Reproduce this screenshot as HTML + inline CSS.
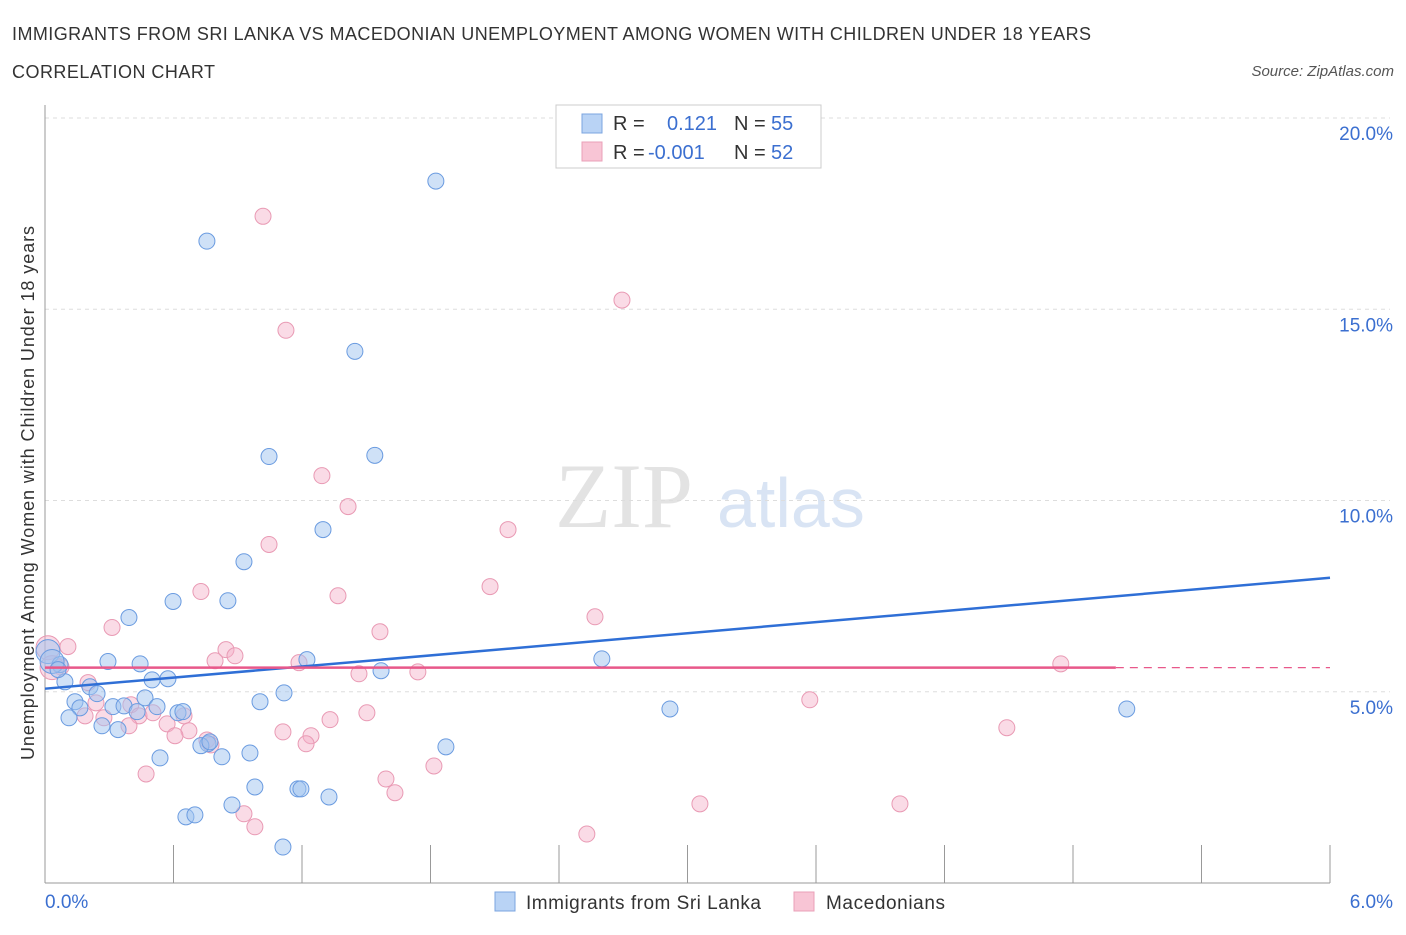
<!DOCTYPE html>
<html><head><meta charset="utf-8"><style>
body{margin:0;background:#fff;font-family:"Liberation Sans",sans-serif;}
svg text{font-family:"Liberation Sans",sans-serif;}
</style></head><body>
<svg id="chart" width="1406" height="930" xmlns="http://www.w3.org/2000/svg">
<text x="12" y="40" font-size="18" fill="#333" textLength="1079">IMMIGRANTS FROM SRI LANKA VS MACEDONIAN UNEMPLOYMENT AMONG WOMEN WITH CHILDREN UNDER 18 YEARS</text>
<text x="12" y="78" font-size="18" fill="#333" textLength="203">CORRELATION CHART</text>
<text x="1394" y="76" font-size="15" fill="#555" text-anchor="end" font-style="italic">Source: ZipAtlas.com</text>
<text x="555" y="527" font-size="92" fill="#ddd" style="font-family:'Liberation Serif',serif" opacity="0.8">ZIP</text>
<text x="717" y="527" font-size="70" fill="#c9daf0" opacity="0.7">atlas</text>
<g id="grid"></g>
<g id="axes"></g>
<g id="marks"></g>
<text transform="translate(34,493) rotate(-90)" font-size="18" fill="#333" text-anchor="middle" textLength="534">Unemployment Among Women with Children Under 18 years</text>
<g>
<rect x="556" y="105" width="265" height="63" fill="#fff" stroke="#ccc"/>
<rect x="582" y="114" width="20" height="19" fill="#b9d3f5" stroke="#7ba5e0"/>
<rect x="582" y="142" width="20" height="19" fill="#f8c5d5" stroke="#eaa0b8"/>
<text x="613" y="130" font-size="20" fill="#333">R =</text>
<text x="667" y="130" font-size="20" fill="#3b6fd0">0.121</text>
<text x="734" y="130" font-size="20" fill="#333">N =</text>
<text x="771" y="130" font-size="20" fill="#3b6fd0">55</text>
<text x="613" y="159" font-size="20" fill="#333">R =</text>
<text x="648" y="159" font-size="20" fill="#3b6fd0">-0.001</text>
<text x="734" y="159" font-size="20" fill="#333">N =</text>
<text x="771" y="159" font-size="20" fill="#3b6fd0">52</text>
</g>
<g>
<rect x="495" y="892" width="20" height="19" fill="#b9d3f5" stroke="#7ba5e0"/>
<text x="526" y="909" font-size="19" fill="#333" textLength="235">Immigrants from Sri Lanka</text>
<rect x="794" y="892" width="20" height="19" fill="#f8c5d5" stroke="#eaa0b8"/>
<text x="826" y="909" font-size="19" fill="#333" textLength="119">Macedonians</text>
</g>
</svg>
<script>
const blueX=[1.825,0.756,1.447,1.046,1.54,1.298,0.929,0.598,0.854,0.392,0.294,0.444,0.014,0.07,0.093,0.21,0.243,0.5,0.574,0.14,0.163,0.112,0.266,0.341,0.317,0.369,0.43,0.467,0.523,0.621,0.644,0.761,0.728,0.537,0.826,0.957,1.004,1.116,1.223,1.569,2.6,2.918,5.051,1.872,0.98,1.181,1.195,1.326,0.873,0.658,0.70,1.111,0.033,0.061,0.77];
const blueY=[18.35,16.78,13.9,11.15,11.18,9.24,8.40,7.36,7.38,6.94,5.79,5.73,6.05,5.71,5.26,5.13,4.95,5.31,5.34,4.74,4.58,4.32,4.11,4.01,4.61,4.63,4.48,4.84,4.61,4.45,4.48,3.64,3.59,3.27,3.30,3.40,4.74,4.97,5.84,5.55,5.86,4.55,4.55,3.56,2.51,2.46,2.46,2.25,2.04,1.73,1.78,0.94,5.79,5.58,3.69];
const pinkX=[1.018,2.694,1.125,1.293,1.415,2.162,1.046,2.078,0.728,1.368,2.568,1.564,0.313,0.107,0.845,0.887,0.794,0.075,1.186,0.201,1.466,1.741,4.743,3.571,0.238,0.187,0.275,0.401,0.439,0.504,0.57,0.649,0.672,0.607,0.392,0.756,0.775,1.111,1.242,1.219,1.331,1.503,4.491,1.592,1.634,1.816,0.472,0.929,0.98,2.53,3.058,3.992,0.014,0.033];
const pinkY=[17.43,15.24,14.45,10.65,9.84,9.24,8.85,7.75,7.62,7.51,6.96,6.57,6.68,6.18,6.10,5.94,5.81,5.65,5.76,5.24,5.47,5.52,5.73,4.79,4.71,4.37,4.32,4.66,4.37,4.45,4.16,4.37,3.98,3.85,4.11,3.74,3.61,3.95,3.85,3.64,4.27,4.45,4.06,2.72,2.36,3.06,2.85,1.81,1.47,1.28,2.07,2.07,6.15,5.63];
const blueTrend=[5.08,7.98];
const pinkTrend=[5.63,5.63];
const yTicks=[5,10,15,20];
const yTickLabels=["5.0%","10.0%","15.0%","20.0%"];
const xTicks=[0,0.6,1.2,1.8,2.4,3.0,3.6,4.2,4.8,5.4,6.0];
const NS="http://www.w3.org/2000/svg";
const X0=45,X1=1330,Y0=883,Y20=118;
const xs=v=>X0+(v/6)*(X1-X0);
const ys=v=>Y0-(v/20)*(Y0-Y20);
function mk(tag,attrs,parent){const e=document.createElementNS(NS,tag);for(const k in attrs)e.setAttribute(k,attrs[k]);parent.appendChild(e);return e;}
const grid=document.getElementById('grid'),axes=document.getElementById('axes'),marks=document.getElementById('marks');
yTicks.forEach((t,i)=>{
  const l=mk('line',{x1:X0,x2:X1+60,y1:ys(t),y2:ys(t),stroke:'#ddd','stroke-dasharray':'4,4'},grid);
  
  
  const tx=mk('text',{x:1393,y:ys(t)+22,'font-size':19,fill:'#3b6fd0','text-anchor':'end'},grid);
  tx.textContent=yTickLabels[i];
  
  
});
const ya=mk('line',{x1:X0,x2:X0,y1:105,y2:Y0,stroke:'#999'},axes);


const xa=mk('line',{x1:X0,x2:X1,y1:Y0,y2:Y0,stroke:'#999'},axes);


xTicks.forEach(t=>{const l=mk('line',{x1:xs(t),x2:xs(t),y1:845,y2:Y0,stroke:'#999'},axes);
  
  });
const xl0=mk('text',{x:45,y:908,'font-size':19,fill:'#3b6fd0'},axes);xl0.textContent='0.0%';


const xl1=mk('text',{x:1393,y:908,'font-size':19,fill:'#3b6fd0','text-anchor':'end'},axes);xl1.textContent='6.0%';


function pts(X,Y,fill,stroke,name){X.forEach((x,i)=>{const big=x<0.05;
  const c=mk('circle',{cx:xs(x),cy:ys(Y[i]),r:big?12:8,fill:fill,stroke:stroke,'stroke-width':1},marks);
  
  });}
pts(pinkX,pinkY,'rgba(244,176,200,0.45)','#e99ab4','macedonian-point');
pts(blueX,blueY,'rgba(160,196,240,0.5)','#6a9be0','sri-lanka-point');
const bl=mk('line',{x1:xs(0),y1:ys(blueTrend[0]),x2:xs(6),y2:ys(blueTrend[1]),stroke:'#2f6fd6','stroke-width':2.5},marks);


const pxEnd=5.0;
const pl=mk('line',{x1:xs(0),y1:ys(pinkTrend[0]),x2:xs(pxEnd),y2:ys(pinkTrend[0]+(pinkTrend[1]-pinkTrend[0])*pxEnd/6),stroke:'#e8588a','stroke-width':2.5},marks);


const pd=mk('line',{x1:xs(pxEnd),y1:ys(pinkTrend[0]),x2:xs(6),y2:ys(pinkTrend[1]),stroke:'#e8588a','stroke-width':1.2,'stroke-dasharray':'8,6'},marks);


</script>
</body></html>
